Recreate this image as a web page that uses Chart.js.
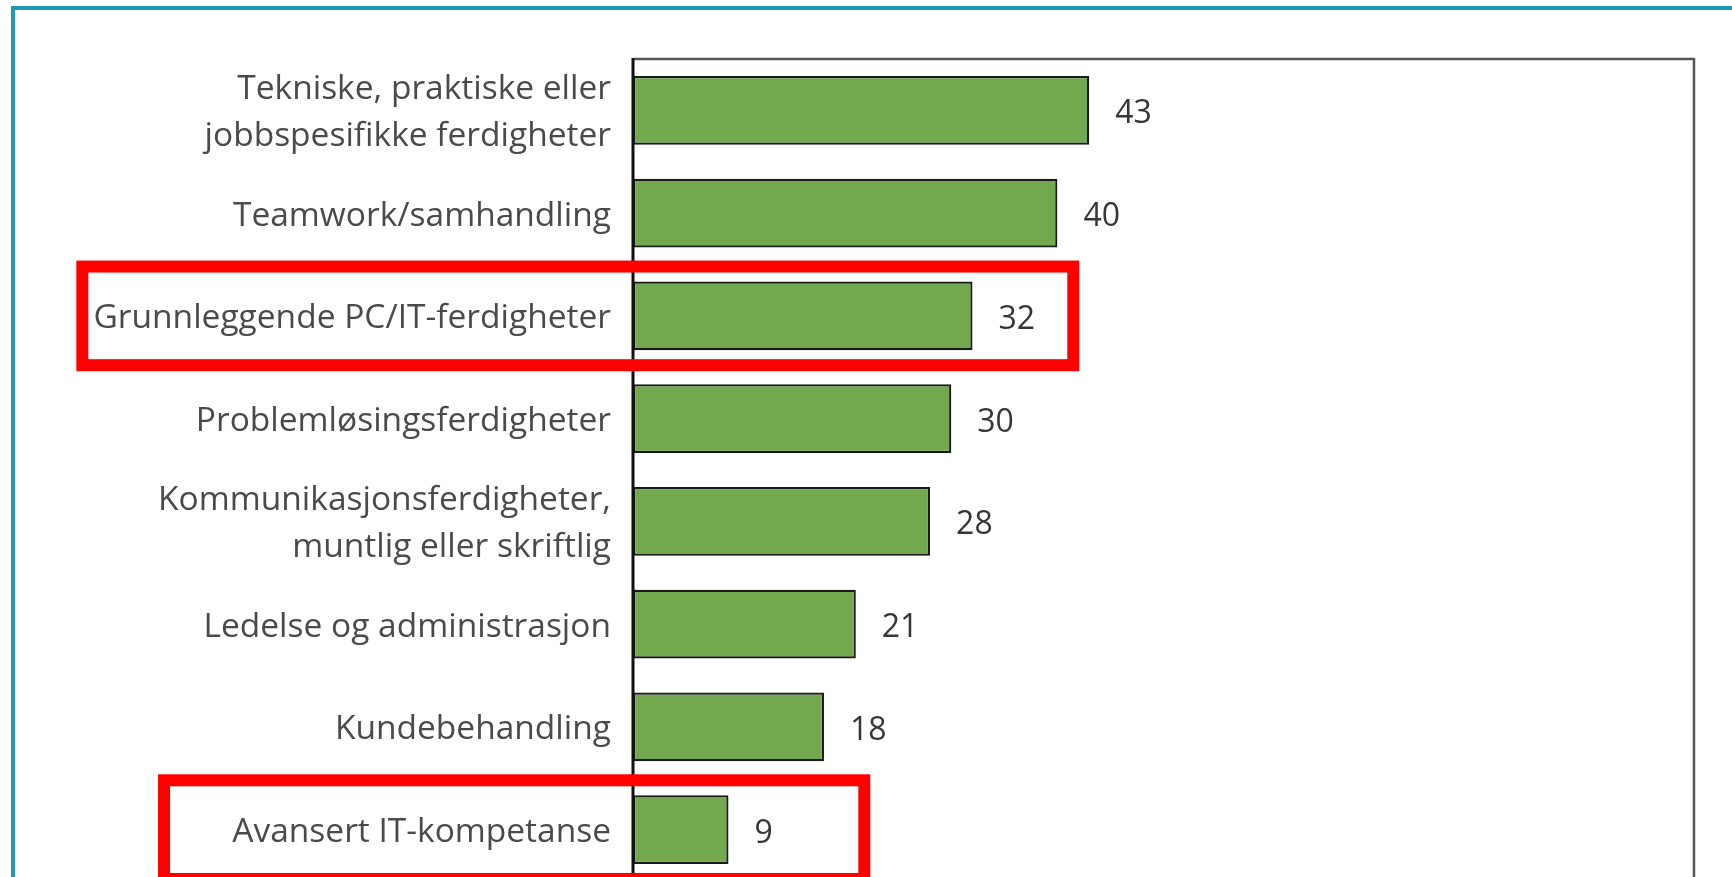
<!DOCTYPE html>
<html lang="no">
<head>
    <meta charset="UTF-8">
    <title>Ferdigheter</title>
    <script src="https://cdn.jsdelivr.net/npm/chart.js"></script>
    <style>
        html, body { margin: 0; padding: 0; background: #fff; overflow: hidden; }
        #wrap { position: relative; width: 1732px; height: 900px; overflow: hidden; }
        #frame { position: absolute; left: 11px; top: 6px; right: -10px; bottom: -10px;
                 border-left: 4px solid #1d9ab6; border-top: 4px solid #1d9ab6; }
        #chart { position: absolute; left: 0; top: 0; width: 1732px; height: 900px; }
    </style>
</head>
<body>
<div id="wrap">
    <div id="frame"></div>
    <canvas id="chart" width="1732" height="900"></canvas>
</div>
<script>
    // categories (multi-line labels as arrays)
    const categories = [
        ['Tekniske, praktiske eller', 'jobbspesifikke ferdigheter'],
        'Teamwork/samhandling',
        'Grunnleggende PC/IT-ferdigheter',
        'Problemløsingsferdigheter',
        ['Kommunikasjonsferdigheter,', 'muntlig eller skriftlig'],
        'Ledelse og administrasjon',
        'Kundebehandling',
        'Avansert IT-kompetanse'
    ];
    const values = [43, 40, 32, 30, 28, 21, 18, 9];
    // red highlight boxes: category index, left/right in value units
    const highlights = [
        { index: 2, from: -51.9, to: 41.5 },
        { index: 7, from: -44.2, to: 21.8 }
    ];

    const FONT = '"Open Sans", Lato, sans-serif';

    const valueLabels = {
        id: 'valueLabels',
        afterDatasetsDraw(chart) {
            const ctx = chart.ctx;
            const meta = chart.getDatasetMeta(0);
            ctx.save();
            ctx.font = '32px ' + FONT;
            ctx.fillStyle = '#363636';
            ctx.textAlign = 'left';
            ctx.textBaseline = 'middle';
            meta.data.forEach((bar, i) => {
                ctx.fillText(String(values[i]), bar.x + 26, bar.y + 4);
            });
            ctx.restore();
        }
    };

    const frameBox = {
        id: 'frameBox',
        afterDraw(chart) {
            const { ctx, chartArea: a } = chart;
            ctx.save();
            ctx.strokeStyle = '#555555';
            ctx.lineWidth = 2.5;
            ctx.beginPath();
            ctx.moveTo(a.left, a.top);
            ctx.lineTo(a.right, a.top);
            ctx.lineTo(a.right, a.bottom + 20);
            ctx.stroke();
            ctx.strokeStyle = '#111111';
            ctx.lineWidth = 3;
            ctx.beginPath();
            ctx.moveTo(a.left, a.top - 1);
            ctx.lineTo(a.left, a.bottom + 20);
            ctx.stroke();

            // highlight boxes
            const xs = chart.scales.x, ys = chart.scales.y;
            const step = ys.getPixelForValue(1) - ys.getPixelForValue(0);
            ctx.strokeStyle = '#ff0000';
            ctx.lineWidth = 12;
            highlights.forEach(h => {
                const cy = ys.getPixelForValue(h.index);
                const x0 = xs.getPixelForValue(h.from);
                const x1 = xs.getPixelForValue(h.to);
                ctx.strokeRect(x0, cy - step * 0.48, x1 - x0, step * 0.96);
            });
            ctx.restore();
        }
    };

    new Chart(document.getElementById('chart'), {
        type: 'bar',
        data: {
            labels: categories,
            datasets: [{
                data: values,
                backgroundColor: '#72a94e',
                borderColor: '#1a1a1a',
                borderWidth: 2.2,
                borderSkipped: false,
                categoryPercentage: 1,
                barPercentage: 0.67
            }]
        },
        options: {
            indexAxis: 'y',
            responsive: false,
            maintainAspectRatio: false,
            animation: false,
            layout: { padding: { left: 0, top: 59, right: 38, bottom: 19 } },
            plugins: { legend: { display: false }, tooltip: { enabled: false } },
            scales: {
                x: { min: 0, max: 100, display: false },
                y: {
                    afterFit(scale) {
                        scale.width = 633;
                        // plot runs past the bottom edge, no room kept for label overhang
                        scale.paddingTop = 0;
                        scale.paddingBottom = 0;
                    },
                    grid: { display: false, drawTicks: false },
                    border: { display: false },
                    ticks: {
                        padding: 22,
                        labelOffset: 3,
                        color: '#4a4a4a',
                        font: { family: FONT, size: 33.5, lineHeight: 1.4 }
                    }
                }
            }
        },
        plugins: [valueLabels, frameBox]
    });
</script>
</body>
</html>
